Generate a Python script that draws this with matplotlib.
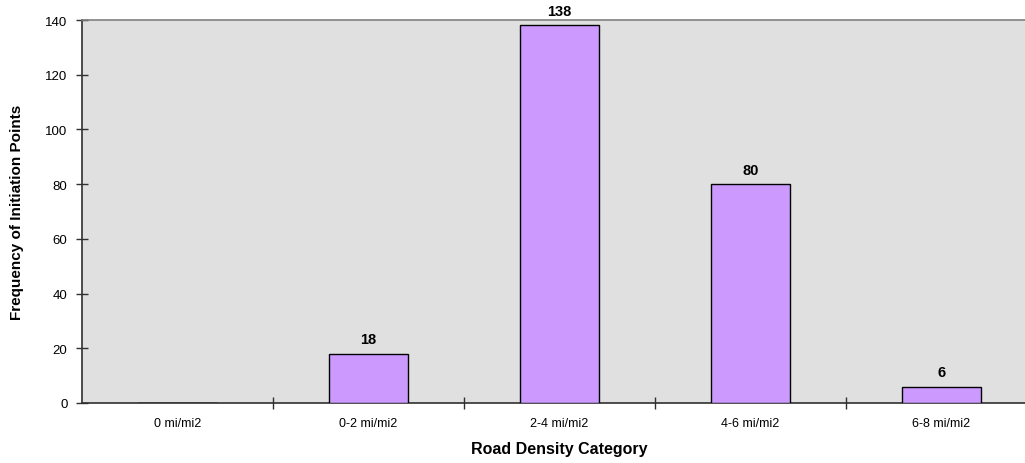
import numpy as np
import matplotlib.pyplot as plt
from matplotlib.ticker import FixedLocator

plt.rcParams['font.family'] = ['Liberation Sans', 'DejaVu Sans']

# road density classes and ignition-point counts
categories = ["0 mi/mi2", "0-2 mi/mi2", "2-4 mi/mi2", "4-6 mi/mi2", "6-8 mi/mi2"]
counts = [0, 18, 138, 80, 6]
y_ticks = [0, 20, 40, 60, 80, 100, 120, 140]

fig = plt.figure(figsize=(10.25, 4.64), dpi=100)
ax = fig.add_axes([82 / 1025, 60 / 464, 955 / 1025, 383 / 464])
ax.set_facecolor("#e0e0e0")

x = np.arange(len(categories))
ax.bar(x, counts, width=0.41, color="#cc99ff", edgecolor="black", linewidth=1.0, zorder=3)
for xi, c in zip(x, counts):
    if c > 0:
        ax.annotate(str(c), (xi, c), xytext=(0, 5.5), textcoords="offset points",
                    ha="center", va="bottom", fontsize=10.5, fontweight="bold")

ax.set_xlim(-0.5, len(categories) - 0.5)
ax.set_ylim(0, 140)
ax.set_yticks(y_ticks)
ax.set_xticks(x)
ax.set_xticklabels(categories, fontsize=9)
# category separators sit on the minor ticks
ax.xaxis.set_minor_locator(FixedLocator(np.arange(0.5, len(categories) - 0.5, 1.0)))
ax.tick_params(axis="x", which="major", length=0, pad=10)
ax.tick_params(axis="x", which="minor", direction="inout", length=9, width=1, color="#303030")
ax.tick_params(axis="y", direction="inout", length=9, width=1, color="#303030", labelsize=9.5, pad=6)

for side in ("left", "bottom"):
    ax.spines[side].set_color("#303030")
    ax.spines[side].set_linewidth(1.2)
ax.spines["top"].set_color("#808080")
ax.spines["top"].set_linewidth(1.2)
ax.spines["right"].set_visible(False)

ax.set_xlabel("Road Density Category", fontsize=11.5, fontweight="bold", labelpad=9)
ax.set_ylabel("Frequency of Initiation Points", fontsize=11, fontweight="bold", labelpad=15)

fig.savefig("out.png", dpi=100)
